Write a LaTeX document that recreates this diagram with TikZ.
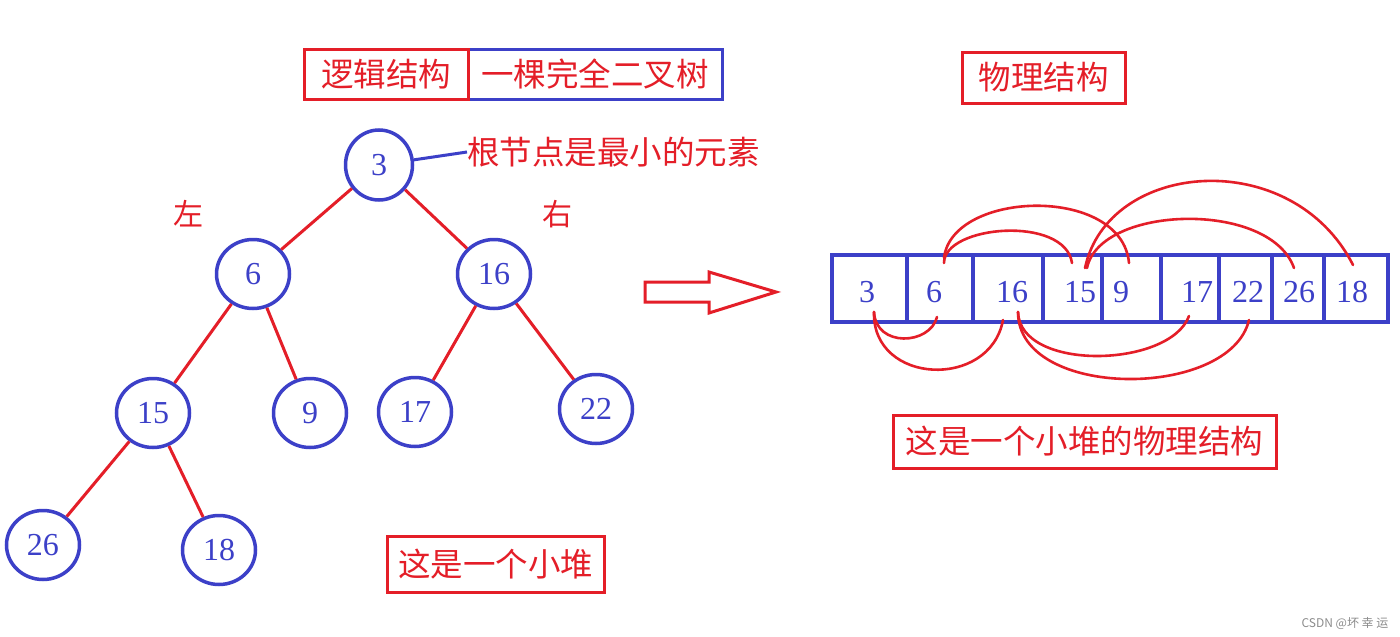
\documentclass[tikz,border=0pt]{standalone}
\usepackage{fontspec}
\newfontfamily\cjk{Noto Sans CJK SC}
\newfontfamily\digits{Liberation Serif}
\usetikzlibrary{shapes.geometric}
\definecolor{myblue}{RGB}{60,64,200}
\definecolor{myred}{RGB}{228,30,40}
\begin{document}
\begin{tikzpicture}[x=1pt,y=-1pt,
  tn/.style={ellipse,draw=myblue,line width=3.5pt,minimum width=73pt,minimum height=69pt,inner sep=0pt,text=myblue,font=\digits\fontsize{32}{32}\selectfont},
  edge/.style={draw=myred,line width=3pt},
  cell/.style={rectangle,draw=myblue,line width=3.5pt,minimum height=67pt,inner sep=0pt},
  num/.style={text=myblue,font=\digits\fontsize{32}{32}\selectfont,inner sep=0pt},
  tbox/.style={rectangle,draw=myred,line width=3pt,text=myred,inner sep=0pt,font=\cjk\fontsize{32.5}{32.5}\selectfont},
  ctext/.style={text=myred,inner sep=0pt,font=\cjk\fontsize{32.5}{32.5}\selectfont},
  side/.style={text=myred,inner sep=0pt,font=\cjk\fontsize{30}{30}\selectfont},
  hand/.style={draw=myred,line width=2.6pt,line cap=round}
]
\useasboundingbox (0,0) rectangle (1400,637);
\fill[white] (0,0) rectangle (1400,637);

% title boxes
\node[tbox,draw=myblue,minimum width=254pt,minimum height=50pt] (kind) at (595,74) {一棵完全二叉树};
\node[tbox,minimum width=164pt,minimum height=50pt] (logic) at (386,74) {逻辑结构};
\node[tbox,minimum width=163pt,minimum height=51pt] (phys) at (1043.5,77.5) {物理结构};
\node[tbox,minimum width=217pt,minimum height=56pt] (small) at (495.5,564) {这是一个小堆};
\node[tbox,minimum width=383pt,minimum height=53pt] (smallphys) at (1084.5,441.5) {这是一个小堆的物理结构};

% tree
\node[tn,minimum width=67pt,minimum height=70pt] (t3) at (379,165) {3};
\node[tn] (t6) at (253,274) {6};
\node[tn] (t16) at (494,274) {16};
\node[tn] (t15) at (153,413) {15};
\node[tn] (t9) at (310,413) {9};
\node[tn] (t17) at (415,412) {17};
\node[tn] (t22) at (596,409) {22};
\node[tn] (t26) at (43,545) {26};
\node[tn] (t18) at (219,550) {18};

\draw[edge] (t3) -- (t6);
\draw[edge] (t3) -- (t16);
\draw[edge] (t6) -- (t15);
\draw[edge] (t6) -- (t9);
\draw[edge] (t16) -- (t17);
\draw[edge] (t16) -- (t22);
\draw[edge] (t15) -- (t26);
\draw[edge] (t15) -- (t18);

\node[ctext,anchor=west] (rootlbl) at (467,152) {根节点是最小的元素};
\draw[draw=myblue,line width=3pt] (t3) -- (rootlbl.west);

\node[side] (left) at (188,214) {左};
\node[side] (right) at (557,214) {右};

% arrow
\draw[myred,line width=3pt,line join=miter] (645,282) -- (709,282) -- (709,272) -- (776,292) -- (709,313) -- (709,302) -- (645,302) -- cycle;

% array
\node[cell,minimum width=75pt] (c1) at (869.5,288.5) {};
\node[cell,minimum width=66pt] (c2) at (940,288.5) {};
\node[cell,minimum width=70pt] (c3) at (1008,288.5) {};
\node[cell,minimum width=59pt] (c4) at (1072.5,288.5) {};
\node[cell,minimum width=59pt] (c5) at (1131.5,288.5) {};
\node[cell,minimum width=58pt] (c6) at (1190,288.5) {};
\node[cell,minimum width=53pt] (c7) at (1245.5,288.5) {};
\node[cell,minimum width=52pt] (c8) at (1298,288.5) {};
\node[cell,minimum width=64pt] (c9) at (1356,288.5) {};

\node[num] (n1) at (867,292) {3};
\node[num] (n2) at (934,292) {6};
\node[num] (n3) at (1012,292) {16};
\node[num] (n4) at (1080,292) {15};
\node[num] (n5) at (1121,292) {9};
\node[num] (n6) at (1197,292) {17};
\node[num] (n7) at (1248,292) {22};
\node[num] (n8) at (1299,292) {26};
\node[num] (n9) at (1352,292) {18};

% hand-drawn links above
\draw[hand] ([shift={(4,-25.5)}]c2.center) .. controls (944,225) and (1065,215) .. ([shift={(-0.5,-25.5)}]c4.center);
\draw[hand] ([shift={(4,-30.5)}]c2.center) .. controls (952,190) and (1122,185) .. ([shift={(-2.5,-25.5)}]c5.center);
\draw[hand] ([shift={(12.5,-20.5)}]c4.center) .. controls (1108,160) and (1292,145) .. ([shift={(-3,-23.5)}]c9.center);
\draw[hand] ([shift={(14.5,-20.5)}]c4.center) .. controls (1100,205) and (1270,200) .. ([shift={(-4,-20.5)}]c8.center);
% hand-drawn links below
\draw[hand] ([shift={(4.5,23.5)}]c1.center) .. controls (876,348) and (930,345) .. ([shift={(-3,28.5)}]c2.center);
\draw[hand] ([shift={(4.5,23.5)}]c1.center) .. controls (872,385) and (990,390) .. ([shift={(-5,31.5)}]c3.center);
\draw[hand] ([shift={(10,23.5)}]c3.center) .. controls (1020,372) and (1170,368) .. ([shift={(-1,27.5)}]c6.center);
\draw[hand] ([shift={(10,23.5)}]c3.center) .. controls (1018,400) and (1230,400) .. ([shift={(3.5,31.5)}]c7.center);

% watermark
\node[text=black!45,inner sep=0pt,font=\cjk\fontsize{12}{12}\selectfont] (wm) at (1345,623) {CSDN @坏 幸 运};
\end{tikzpicture}
\end{document}
